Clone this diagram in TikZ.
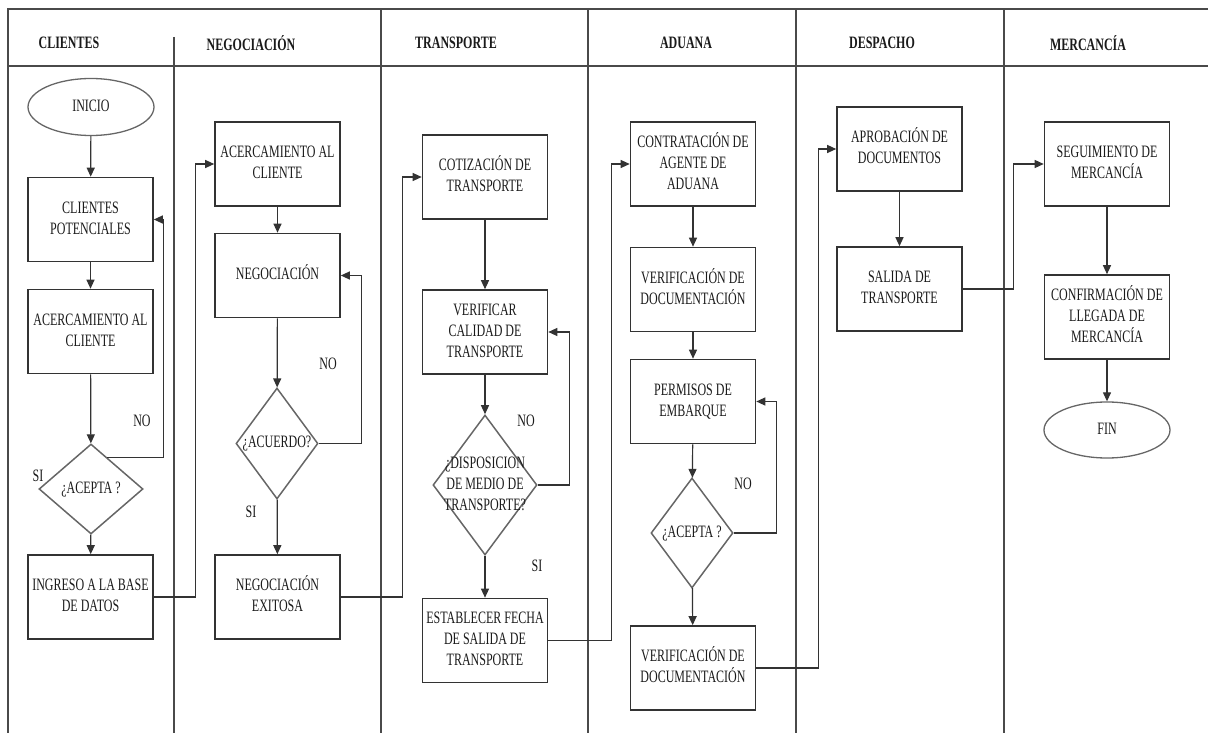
\documentclass[tikz,border=0pt]{standalone}
\usepackage{fontspec}
\usepackage{graphicx}
\setmainfont{Liberation Serif}
\usetikzlibrary{shapes.geometric,arrows.meta,calc}

\definecolor{boxc}{HTML}{333333}
\definecolor{decc}{HTML}{666666}
\definecolor{linec}{HTML}{333333}
\definecolor{framec}{HTML}{4A4A4A}
\definecolor{txtc}{HTML}{1A1A1A}

% tall, narrow lettering used throughout the chart
\newcommand{\boxtxt}[1]{\scalebox{1}[1.45]{\begin{tabular}{@{}c@{}}#1\end{tabular}}}
\newcommand{\headtxt}[1]{\scalebox{1}[1.45]{\bfseries #1}}

\begin{document}
\begin{tikzpicture}[x=1pt,y=-1pt,
  font=\fontsize{12}{14.4}\selectfont, text=txtc,
  proc/.style={draw=boxc, line width=1.6pt, minimum width=125pt, minimum height=84pt, inner sep=0pt},
  term/.style={ellipse, draw=decc, line width=1.3pt, minimum width=126pt, minimum height=57pt, inner sep=0pt},
  dec/.style={diamond, draw=decc, line width=1.5pt, inner sep=0pt},
  flow/.style={draw=linec, line width=1.2pt, -{Triangle[length=9pt,width=8pt]}},
  frame/.style={draw=framec, line width=1.3pt},
  lane/.style={inner sep=0pt},
  answer/.style={inner sep=0pt}]

\useasboundingbox (0,0) rectangle (1208,733);

% lane frame and header row
\draw[frame] (8,733) -- (8,9) -- (1208,9);
\draw[frame, line width=1.6pt] (8,66) -- (1208,66);
\draw[frame] (174,37) -- (174,733);
\draw[frame] (381,9) -- (381,733);
\draw[frame] (588,9) -- (588,733);
\draw[frame] (796,9) -- (796,733);
\draw[frame] (1004,9) -- (1004,733);

\node[lane] (h1) at (69,43) {\headtxt{CLIENTES}};
\node[lane] (h2) at (251,43) {\headtxt{NEGOCIACIÓN}};
\node[lane] (h3) at (456,43) {\headtxt{TRANSPORTE}};
\node[lane] (h4) at (686,43) {\headtxt{ADUANA}};
\node[lane] (h5) at (882,43) {\headtxt{DESPACHO}};
\node[lane] (h6) at (1088,43) {\headtxt{MERCANCÍA}};

% CLIENTES
\node[term] (ini) at (91,107) {\boxtxt{INICIO}};
\node[proc] (cp) at (90.5,219.5) {\boxtxt{CLIENTES\\POTENCIALES}};
\node[proc] (ac1) at (90.5,331.5) {\boxtxt{ACERCAMIENTO AL\\CLIENTE}};
\node[dec, minimum width=104pt, minimum height=90pt] (d1) at (91,489) {};
\node[inner sep=0pt] (d1t) at (d1) {\boxtxt{¿ACEPTA ?}};
\node[proc] (ing) at (90.5,597) {\boxtxt{INGRESO A LA BASE\\DE DATOS}};

% NEGOCIACIÓN
\node[proc] (ac2) at (277.5,164) {\boxtxt{ACERCAMIENTO AL\\CLIENTE}};
\node[proc] (neg) at (277.5,275.5) {\boxtxt{NEGOCIACIÓN}};
\node[dec, minimum width=82pt, minimum height=111pt] (d2) at (277,443.5) {};
\node[inner sep=0pt] (d2t) at (d2) {\boxtxt{¿ACUERDO?}};
\node[proc] (exi) at (277.5,597) {\boxtxt{NEGOCIACIÓN\\EXITOSA}};

% TRANSPORTE
\node[proc] (cot) at (485,177) {\boxtxt{COTIZACIÓN DE\\TRANSPORTE}};
\node[proc] (ver) at (485,332) {\boxtxt{VERIFICAR\\CALIDAD DE\\TRANSPORTE}};
\node[dec, minimum width=104pt, minimum height=140pt] (d3) at (485,485) {};
\node[inner sep=0pt] (d3t) at (d3) {\boxtxt{¿DISPOSICION\\DE MEDIO DE\\TRANSPORTE?}};
\node[proc] (fec) at (485,640.5) {\boxtxt{ESTABLECER FECHA\\DE SALIDA DE\\TRANSPORTE}};

% ADUANA
\node[proc] (con) at (693,164) {\boxtxt{CONTRATACIÓN DE\\AGENTE DE\\ADUANA}};
\node[proc] (vd1) at (693,289.5) {\boxtxt{VERIFICACIÓN DE\\DOCUMENTACIÓN}};
\node[proc] (per) at (693,401.5) {\boxtxt{PERMISOS DE\\EMBARQUE}};
\node[dec, minimum width=82pt, minimum height=110pt] (d4) at (692,533) {};
\node[inner sep=0pt] (d4t) at (d4) {\boxtxt{¿ACEPTA ?}};
\node[proc] (vd2) at (693,668) {\boxtxt{VERIFICACIÓN DE\\DOCUMENTACIÓN}};

% DESPACHO
\node[proc] (apr) at (899.5,149) {\boxtxt{APROBACIÓN DE\\DOCUMENTOS}};
\node[proc] (sal) at (899.5,289) {\boxtxt{SALIDA DE\\TRANSPORTE}};

% MERCANCÍA
\node[proc] (seg) at (1107,164) {\boxtxt{SEGUIMIENTO DE\\MERCANCÍA}};
\node[proc] (cnf) at (1107,317) {\boxtxt{CONFIRMACIÓN DE\\LLEGADA DE\\MERCANCÍA}};
\node[term, minimum height=56pt] (fin) at (1107,430) {\boxtxt{FIN}};

% answers on the decision branches
\node[answer] (no1) at (142,422) {\boxtxt{NO}};
\node[answer] (si1) at (38,477) {\boxtxt{SI}};
\node[answer] (no2) at (328,365) {\boxtxt{NO}};
\node[answer] (si2) at (251,513) {\boxtxt{SI}};
\node[answer] (no3) at (526,422) {\boxtxt{NO}};
\node[answer] (si3) at (537,567) {\boxtxt{SI}};
\node[answer] (no4) at (743,485) {\boxtxt{NO}};

% straight flow inside each lane
\draw[flow] (ini) -- (cp);
\draw[flow] (cp) -- (ac1);
\draw[flow] (ac1) -- (d1);
\draw[flow] (d1) -- (ing);
\draw[flow] (ac2) -- (neg);
\draw[flow] (neg) -- (d2);
\draw[flow] (d2) -- (exi);
\draw[flow] (cot) -- (ver);
\draw[flow] (ver) -- (d3);
\draw[flow] (d3) -- (fec);
\draw[flow] (con) -- (vd1);
\draw[flow] (vd1) -- (per);
\draw[flow] (per) -- (d4);
\draw[flow] (d4) -- (vd2);
\draw[flow] (apr) -- (sal);
\draw[flow] (seg) -- (cnf);
\draw[flow] (cnf) -- (fin);

% "NO" loops back to an earlier step
\draw[flow] (d1.63) -| ($(cp.east)+(10,0)$) -- (cp.east);
\draw[flow] (d2.east) -| ($(neg.east)+(21,0)$) -- (neg.east);
\draw[flow] (d3.east) -| ($(ver.east)+(21,0)$) -- (ver.east);
\draw[flow] (d4.east) -| ($(per.east)+(20,0)$) -- (per.east);

% hand-over from one lane to the next
\draw[flow] (ing.east) -- ++(42,0) |- (ac2.west);
\draw[flow] (exi.east) -- ++(62,0) |- (cot.west);
\draw[flow] (fec.east) -- ++(63,0) |- (con.west);
\draw[flow] (vd2.east) -- ++(62,0) |- (apr.west);
\draw[flow] (sal.east) -- ++(51,0) |- (seg.west);

\end{tikzpicture}
\end{document}
